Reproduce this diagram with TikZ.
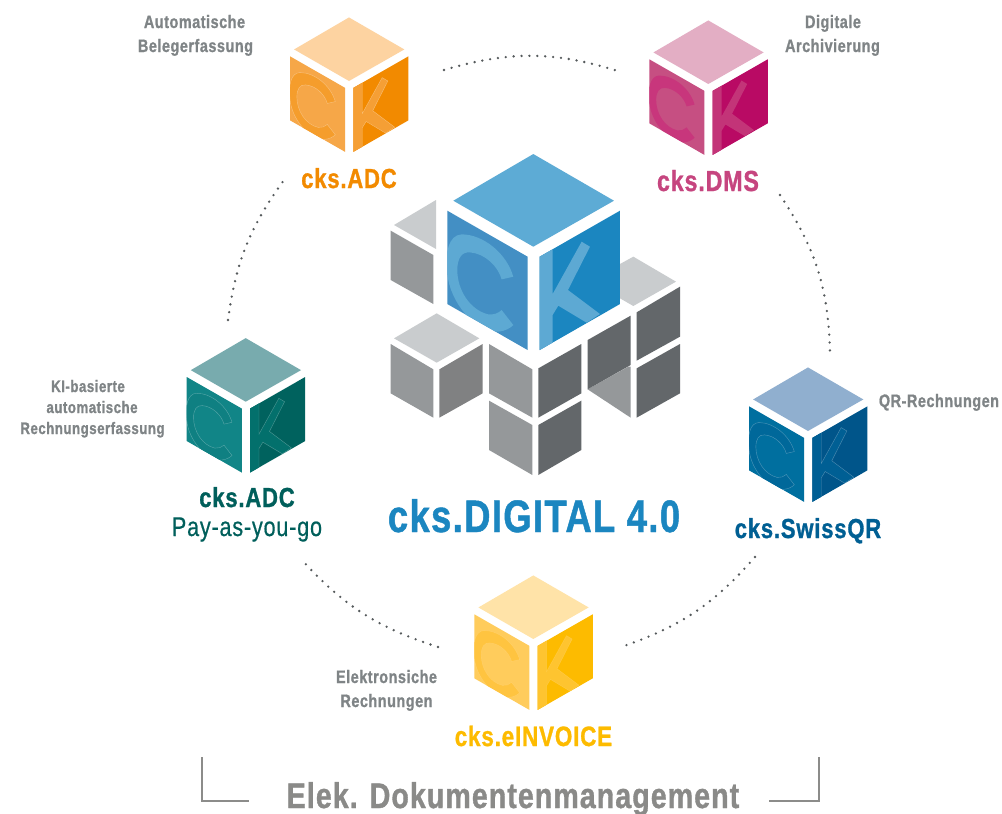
\documentclass[tikz,border=0pt]{standalone}
\usepackage{fontspec}
\setmainfont{Liberation Sans}
\newfontfamily\cnd[FakeStretch=0.8,LetterSpace=3,BoldFeatures={FakeBold=1}]{Liberation Sans}
\newfontfamily\cndm[FakeStretch=0.8,LetterSpace=3,FakeBold=0.5]{Liberation Sans}
\definecolor{labgrey}{HTML}{7F8486}
\definecolor{dotgrey}{HTML}{555A5C}
\definecolor{brkgrey}{HTML}{8C8C8A}
\definecolor{titlegrey}{HTML}{8A8A88}
\definecolor{gl}{HTML}{C9CCCE}
\definecolor{gm}{HTML}{95989A}
\definecolor{gd}{HTML}{63676A}
\definecolor{gr}{HTML}{808182}
\definecolor{cOrange}{HTML}{F28A00}
\definecolor{cPink}{HTML}{C6457F}
\definecolor{cTeal}{HTML}{005F5B}
\definecolor{cQR}{HTML}{005F93}
\definecolor{cYellow}{HTML}{FDBB00}
\definecolor{cBlue}{HTML}{1B86C0}
\definecolor{bigT}{HTML}{5DABD5}\definecolor{bigL}{HTML}{438FC4}\definecolor{bigR}{HTML}{1B86C0}\definecolor{bigC}{HTML}{5DA9D3}\definecolor{bigK}{HTML}{5DA9D3}
\definecolor{orT}{HTML}{FDD3A1}\definecolor{orL}{HTML}{F6A748}\definecolor{orR}{HTML}{F28A00}\definecolor{orC}{HTML}{F59D2C}\definecolor{orK}{HTML}{F59F35}
\definecolor{piT}{HTML}{E3AEC4}\definecolor{piL}{HTML}{C64F82}\definecolor{piR}{HTML}{B90A64}\definecolor{piC}{HTML}{C8367C}\definecolor{piK}{HTML}{C33478}
\definecolor{teT}{HTML}{78ABAE}\definecolor{teL}{HTML}{118587}\definecolor{teR}{HTML}{00625E}\definecolor{teC}{HTML}{0F8082}\definecolor{teK}{HTML}{03706C}
\definecolor{qrT}{HTML}{90AFCF}\definecolor{qrL}{HTML}{006F9F}\definecolor{qrR}{HTML}{00558A}\definecolor{qrC}{HTML}{00689A}\definecolor{qrK}{HTML}{005F94}
\definecolor{yeT}{HTML}{FFE3A8}\definecolor{yeL}{HTML}{FFCC5C}\definecolor{yeR}{HTML}{FDBB00}\definecolor{yeC}{HTML}{FFC440}\definecolor{yeK}{HTML}{FEC430}
\tikzset{
  lab/.style={inner sep=0pt,anchor=base,align=center,font=\cnd\bfseries\fontsize{18}{18}\selectfont,text=labgrey},
  labs/.style={inner sep=0pt,anchor=base,align=center,font=\cnd\bfseries\fontsize{16.6}{16.6}\selectfont,text=labgrey},
  prod/.style={inner sep=0pt,anchor=base,font=\cnd\bfseries\fontsize{27.5}{27.5}\selectfont},
  dotarc/.style={draw=dotgrey,line width=2.6pt,line cap=round,dash pattern=on 0pt off 7.9pt},
  brk/.style={draw=brkgrey,line width=1.8pt},
}
% x, y, scale, colour prefix, outline opacity
\newcommand{\ckcube}[5]{%
\begin{scope}[shift={(#1,#2)},scale=#3/3,shift={(-490,-320)}]
  \fill[#4T] (490,42)--(250,182)--(490,320)--(732,182)--cycle;
  \fill[#4L] (232,212)--(473,350)--(473,630)--(232,492)--cycle;
  \fill[#4R] (509,350)--(750,212)--(750,492)--(509,630)--cycle;
  \begin{scope}
    \clip (232,212)--(473,350)--(473,630)--(232,492)--cycle;
    \filldraw[fill=#4C,draw=white,draw opacity=#5,line width=.4pt]
      (430,410) .. controls (410,340) and (340,283) .. (275,283)
      .. controls (235,285) and (225,340) .. (232,400)
      .. controls (240,490) and (320,580) .. (385,575)
      .. controls (405,573) and (420,565) .. (430,555) -- (395,510)
      .. controls (385,520) and (370,525) .. (355,523)
      .. controls (300,510) and (262,450) .. (262,390)
      .. controls (262,355) and (275,335) .. (300,337)
      .. controls (345,340) and (385,380) .. (395,418) -- cycle;
  \end{scope}
  \begin{scope}
    \clip (509,350)--(750,212)--(750,492)--(509,630)--cycle;
    \filldraw[fill=#4K,draw=white,draw opacity=#5,line width=.4pt]
      (500,300)--(548,300)--(548,462)--(635,305)--(660,320)--(594,450)
      --(690,522)--(650,548)--(565,497)--(548,525)--(548,640)--(500,640)--cycle;
  \end{scope}
\end{scope}}
\begin{document}
\begin{tikzpicture}[x=1pt,y=-1pt]
\useasboundingbox (0,0) rectangle (1002,814);
\fill[white] (0,0) rectangle (1002,814);
% grey cubes
\begin{scope}[shift={(370,140)},scale=1/3]
  \fill[gl] (72,255)--(198,180)--(198,327)--cycle;
  \fill[gm] (62,272)--(190,345)--(190,492)--(62,420)--cycle;
  \fill[gl] (72,595)--(200,520)--(328,595)--(200,668)--cycle;
  \fill[gm] (62,612)--(190,688)--(190,833)--(62,760)--cycle;
  \fill[gr] (208,688)--(338,612)--(338,760)--(208,833)--cycle;
  \fill[gm] (357,612)--(487,688)--(487,833)--(357,760)--cycle;
  \fill[gd] (505,685)--(634,612)--(634,760)--(505,833)--cycle;
  \fill[gm] (357,782)--(487,855)--(487,1005)--(357,930)--cycle;
  \fill[gd] (505,855)--(634,782)--(634,930)--(505,1005)--cycle;
  \fill[gl] (750,372)--(790,350)--(918,425)--(790,498)--(750,475)--cycle;
  \fill[gd] (800,517)--(930,440)--(930,590)--(800,662)--cycle;
  \fill[gd] (800,685)--(930,612)--(930,760)--(800,833)--cycle;
  \fill[gm] (653,748)--(775,680)--(782,680)--(782,833)--cycle;
  \fill[gd] (653,600)--(782,527)--(782,675)--(653,748)--cycle;
\end{scope}
% colour cubes
\ckcube{533.3}{246.7}{1}{big}{0}
\ckcube{349}{81}{.686}{or}{.35}
\ckcube{708.3}{84}{.686}{pi}{0}
\ckcube{245.7}{401.7}{.686}{te}{.3}
\ckcube{808}{431}{.686}{qr}{.3}
\ckcube{533.3}{639}{.686}{ye}{.15}
% product names
\node[prod,text=cOrange] (adc) at (349,188) {cks.ADC};
\node[prod,text=cPink,font=\cnd\bfseries\fontsize{29}{29}\selectfont] (dms) at (708,191) {cks.DMS};
\node[prod,text=cTeal] (pay) at (247,507) {cks.ADC};
\node[inner sep=0pt,anchor=base,text=cTeal,font=\cndm\fontsize{27}{27}\selectfont] (payb) at (247,536) {Pay-as-you-go};
\node[prod,text=cQR] (qr) at (808,538) {cks.SwissQR};
\node[prod,text=cYellow,font=\cnd\bfseries\fontsize{28}{28}\selectfont] (inv) at (533.5,746) {cks.eINVOICE};
\node[inner sep=0pt,anchor=base,text=cBlue,font=\cnd\bfseries\fontsize{45.5}{45.5}\selectfont] (dig) at (534,532) {cks.DIGITAL 4.0};
\node[inner sep=0pt,anchor=base,text=titlegrey,font=\cnd\bfseries\fontsize{35.7}{35.7}\selectfont] (elek) at (513,808) {Elek. Dokumentenmanagement};
% descriptions
\node[lab] (l1a) at (194.5,28) {Automatische};
\node[lab] (l1b) at (195.5,52) {Belegerfassung};
\node[lab] (l2a) at (833,28) {Digitale};
\node[lab] (l2b) at (832.5,52) {Archivierung};
\node[labs] (l3a) at (88,392) {KI-basierte};
\node[labs] (l3b) at (92,413) {automatische};
\node[labs] (l3c) at (92.5,434) {Rechnungserfassung};
\node[lab] (l4) at (939,407) {QR-Rechnungen};
\node[lab] (l5a) at (386.5,683) {Elektronsiche};
\node[lab] (l5b) at (386.5,707) {Rechnungen};
% dotted ring
\coordinate (a1) at (444,70);  \coordinate (a2) at (621,72);
\coordinate (b1) at (780,195); \coordinate (b2) at (830,352);
\coordinate (c1) at (755,557); \coordinate (c2) at (621,647);
\coordinate (d1) at (438,647); \coordinate (d2) at (301,559);
\coordinate (e1) at (228,320); \coordinate (e2) at (284,180);
\draw[dotarc] (a1) to[bend left=17] (a2);
\draw[dotarc] (b1) to[bend left=16] (b2);
\draw[dotarc] (c1) to[bend left=15] (c2);
\draw[dotarc] (d1) to[bend left=15] (d2);
\draw[dotarc] (e1) to[bend left=14] (e2);
% bracket
\coordinate (bl1) at (202,757); \coordinate (bl2) at (202,801); \coordinate (bl3) at (249,801);
\coordinate (br1) at (819,757); \coordinate (br2) at (819,801); \coordinate (br3) at (769,801);
\draw[brk] (bl1) -- (bl2) -- (bl3);
\draw[brk] (br1) -- (br2) -- (br3);
\end{tikzpicture}
\end{document}
